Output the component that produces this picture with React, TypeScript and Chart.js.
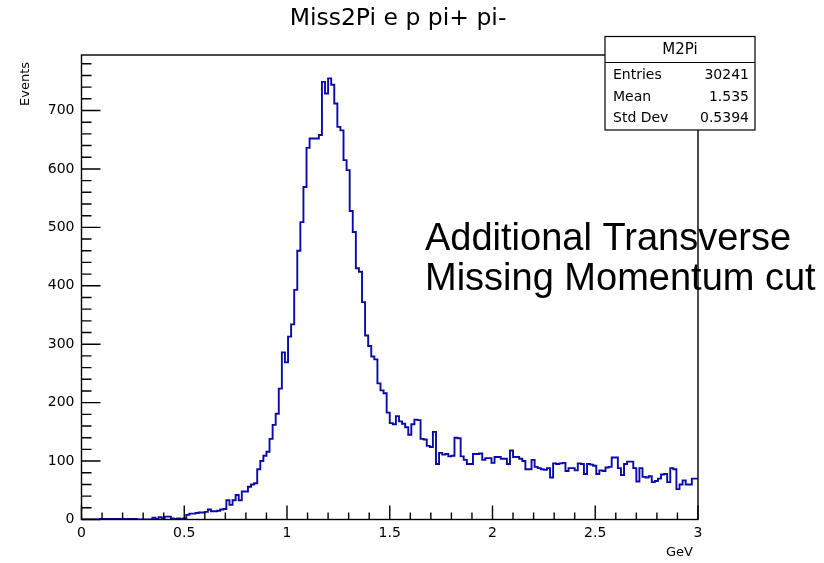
import React, { useEffect, useRef } from 'react';
import { Chart, registerables } from 'chart.js';

Chart.register(...registerables);

// ---- data ----
const TITLE = 'Miss2Pi e p pi+ pi-';
const X_TITLE = 'GeV';
const Y_TITLE = 'Events';
const BIN_WIDTH = 0.015; // GeV, 200 bins over [0,3]
const X_MIN = 0;
const X_MAX = 3;
const Y_MIN = 0;
const Y_MAX = 795;
const X_TICKS = [0, 0.5, 1, 1.5, 2, 2.5, 3];
const Y_TICKS = [0, 100, 200, 300, 400, 500, 600, 700];
const X_MINOR_STEP = 0.1;
const Y_MINOR_STEP = 20;

const COUNTS = [
  0, 0, 0, 0, 0, 0, 0, 1, 1, 1,
  1, 1, 1, 1, 1, 1, 1, 1, 1, 0,
  0, 0, 0, 0, 3, 1, 4, 2, 5, 5,
  2, 1, 2, 1, 2, 8, 10, 10, 11, 12,
  12, 13, 17, 14, 14, 15, 17, 18, 33, 25,
  33, 42, 33, 48, 48, 56, 60, 62, 86, 100,
  109, 116, 138, 162, 181, 224, 286, 269, 313, 334,
  393, 460, 509, 569, 636, 652, 652, 652, 658, 749,
  729, 755, 744, 712, 672, 666, 615, 598, 528, 492,
  430, 424, 372, 315, 297, 279, 274, 233, 221, 216,
  183, 165, 163, 177, 168, 164, 158, 145, 163, 171,
  170, 138, 137, 126, 124, 150, 95, 114, 111, 112,
  108, 109, 140, 139, 108, 102, 95, 95, 112, 112,
  113, 102, 105, 105, 97, 107, 107, 104, 104, 95,
  118, 107, 107, 104, 100, 86, 86, 102, 90, 88,
  86, 85, 88, 72, 96, 95, 96, 97, 83, 88,
  88, 84, 96, 95, 78, 95, 94, 92, 78, 84,
  83, 89, 90, 106, 106, 88, 76, 95, 99, 99,
  88, 65, 88, 73, 72, 74, 64, 66, 70, 77,
  78, 64, 88, 86, 52, 60, 67, 60, 60, 70,
];

const STATS_NAME = 'M2Pi';
const STATS_LABELS = ['Entries', 'Mean', 'Std Dev'];
const STATS_VALUES = ['30241', '1.535', '0.5394'];

const NOTE_LINES = ['Additional Transverse', 'Missing Momentum cut'];

const LINE_COLOR = '#0a0aa8';
const ROOT_FONT = '"DejaVu Sans", sans-serif';

const rootPlugin = {
  id: 'rootDecor',
  afterDatasetsDraw(chart: any) {
    const { ctx, chartArea } = chart;
    const xs = chart.scales.x;
    const ys = chart.scales.y;
    const { left, right, top, bottom } = chartArea;
    ctx.save();
    ctx.strokeStyle = '#000';
    ctx.lineWidth = 1.4;
    ctx.strokeRect(left, top, right - left, bottom - top);
    ctx.beginPath();
    // y ticks
    for (let v = Y_MIN; v < Y_MAX; v += Y_MINOR_STEP) {
      const y = ys.getPixelForValue(v);
      const major = v % 100 === 0;
      ctx.moveTo(left, y);
      ctx.lineTo(left + (major ? 19 : 10), y);
    }
    // x ticks
    for (let i = 0; Math.round(i * X_MINOR_STEP * 10) <= X_MAX * 10; i++) {
      const v = i * X_MINOR_STEP;
      const x = xs.getPixelForValue(v);
      const major = i % 5 === 0;
      ctx.moveTo(x, bottom);
      ctx.lineTo(x, bottom - (major ? 14 : 7));
    }
    ctx.stroke();
    ctx.restore();
  },
  afterDraw(chart: any) {
    const { ctx } = chart;
    ctx.save();
    ctx.fillStyle = '#000';
    // title
    ctx.font = `23.5px ${ROOT_FONT}`;
    ctx.textAlign = 'center';
    ctx.textBaseline = 'middle';
    ctx.fillText(TITLE, 398, 19);
    // x title
    ctx.font = `13px ${ROOT_FONT}`;
    ctx.textAlign = 'right';
    ctx.fillText(X_TITLE, 693, 553);
    // y title
    ctx.save();
    ctx.translate(26, 62);
    ctx.rotate(-Math.PI / 2);
    ctx.textAlign = 'right';
    ctx.textBaseline = 'middle';
    ctx.fillText(Y_TITLE, 0, 0);
    ctx.restore();

    // stats box
    const bx = 605, by = 36.5, bw = 150, bh = 93.5;
    ctx.fillStyle = '#fff';
    ctx.fillRect(bx, by, bw, bh);
    ctx.strokeStyle = '#000';
    ctx.lineWidth = 1.2;
    ctx.strokeRect(bx, by, bw, bh);
    ctx.beginPath();
    ctx.moveTo(bx, 62.5);
    ctx.lineTo(bx + bw, 62.5);
    ctx.stroke();
    ctx.fillStyle = '#000';
    ctx.font = `15px ${ROOT_FONT}`;
    ctx.textAlign = 'center';
    ctx.textBaseline = 'middle';
    ctx.fillText(STATS_NAME, bx + bw / 2, 50);
    ctx.font = `14px ${ROOT_FONT}`;
    const rowsY = [75, 97, 118];
    STATS_LABELS.forEach((lab, i) => {
      ctx.textAlign = 'left';
      ctx.fillText(lab, 613, rowsY[i]);
      ctx.textAlign = 'right';
      ctx.fillText(STATS_VALUES[i], 749, rowsY[i]);
    });

    // annotation text
    ctx.font = '38px "Liberation Sans", Arial, sans-serif';
    ctx.textAlign = 'left';
    ctx.textBaseline = 'middle';
    ctx.fillText(NOTE_LINES[0], 425, 240);
    ctx.fillText(NOTE_LINES[1], 425, 280);
    ctx.restore();
  },
};

export default function App() {
  const canvasRef = useRef<HTMLCanvasElement | null>(null);

  useEffect(() => {
    const canvas = canvasRef.current;
    if (!canvas) return;
    const points = COUNTS.map((c, i) => ({ x: i * BIN_WIDTH, y: c }));
    points.push({ x: X_MAX, y: COUNTS[COUNTS.length - 1] });

    const chart = new Chart(canvas, {
      type: 'line',
      data: {
        datasets: [
          {
            data: points,
            borderColor: LINE_COLOR,
            borderWidth: 1.9,
            pointRadius: 0,
            stepped: 'after',
            fill: false,
          },
        ],
      },
      options: {
        responsive: false,
        maintainAspectRatio: false,
        animation: false,
        events: [],
        layout: { padding: { left: 0, right: 126, top: 55, bottom: 0 } },
        plugins: {
          legend: { display: false },
          tooltip: { enabled: false },
          title: { display: false },
        },
        scales: {
          x: {
            type: 'linear',
            min: X_MIN,
            max: X_MAX,
            grid: { display: false, drawTicks: false },
            border: { display: false },
            afterBuildTicks: (s: any) => {
              s.ticks = X_TICKS.map((v) => ({ value: v }));
            },
            afterFit: (s: any) => {
              s.height = 43.5;
            },
            ticks: {
              color: '#000',
              font: { family: 'DejaVu Sans', size: 14 },
              padding: 5,
              maxRotation: 0,
              autoSkip: false,
              callback: (v: any) => String(v),
            },
          },
          y: {
            type: 'linear',
            min: Y_MIN,
            max: Y_MAX,
            grid: { display: false, drawTicks: false },
            border: { display: false },
            afterBuildTicks: (s: any) => {
              s.ticks = Y_TICKS.map((v) => ({ value: v }));
            },
            afterFit: (s: any) => {
              s.width = 81.5;
            },
            ticks: {
              color: '#000',
              font: { family: 'DejaVu Sans', size: 14 },
              padding: 7,
              autoSkip: false,
              callback: (v: any) => String(v),
            },
          },
        },
      },
      plugins: [rootPlugin],
    });
    return () => chart.destroy();
  }, []);

  return (
    <div style={{ position: 'absolute', left: 0, top: 0, width: 824, height: 563, background: '#fff' }}>
      <canvas ref={canvasRef} width={824} height={563} />
    </div>
  );
}
